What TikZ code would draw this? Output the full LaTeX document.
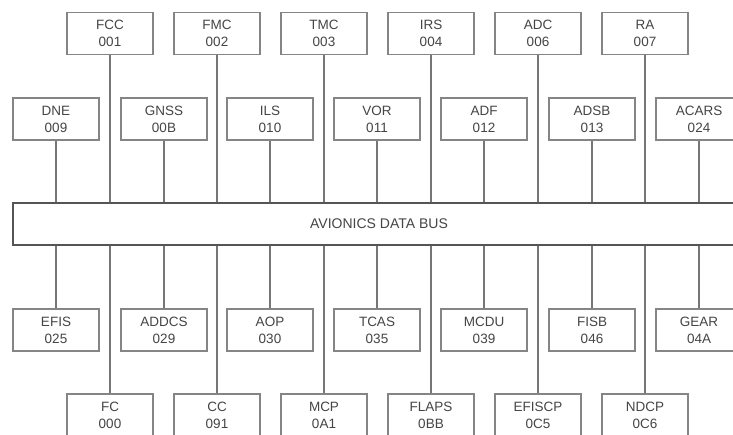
\documentclass[tikz,border=0pt]{standalone}
\usepackage{fontspec}
\setmainfont{Liberation Sans}
\definecolor{boxline}{HTML}{858585}
\definecolor{busline}{HTML}{555555}
\definecolor{labeltext}{HTML}{454545}
\definecolor{wire}{HTML}{767676}
\begin{document}
\begin{tikzpicture}[x=1pt,y=-1pt,
  unit/.style={draw=boxline, line width=1.2pt, rectangle, minimum width=86pt,
    minimum height=42pt, inner sep=0pt, align=center, text=labeltext,
    font=\fontsize{13.5}{17}\selectfont},
  busbox/.style={draw=busline, line width=1.8pt, rectangle, minimum width=732pt,
    minimum height=42pt, inner sep=0pt, text=labeltext,
    font=\fontsize{14}{17}\selectfont},
  link/.style={draw=wire, line width=1.1pt}]
\clip (0,0) rectangle (733,434);
\fill[white] (0,0) rectangle (733,434);

% upper tier of units
\node[unit] (fcc) at (110,33.5) {FCC\\001};
\node[unit] (fmc) at (217,33.5) {FMC\\002};
\node[unit] (tmc) at (324,33.5) {TMC\\003};
\node[unit] (irs) at (431,33.5) {IRS\\004};
\node[unit] (adc) at (538,33.5) {ADC\\006};
\node[unit] (ra)  at (645,33.5) {RA\\007};

% second tier of units
\node[unit] (dne)   at (56,119)  {DNE\\009};
\node[unit] (gnss)  at (164,119) {GNSS\\00B};
\node[unit] (ils)   at (270,119) {ILS\\010};
\node[unit] (vor)   at (377,119) {VOR\\011};
\node[unit] (adf)   at (484,119) {ADF\\012};
\node[unit] (adsb)  at (592,119) {ADSB\\013};
\node[unit] (acars) at (699,119) {ACARS\\024};

% the shared bus
\node[busbox] (bus) at (379,224) {AVIONICS DATA BUS};

% lower tier of units
\node[unit] (efis)  at (56,330)  {EFIS\\025};
\node[unit] (addcs) at (164,330) {ADDCS\\029};
\node[unit] (aop)   at (270,330) {AOP\\030};
\node[unit] (tcas)  at (377,330) {TCAS\\035};
\node[unit] (mcdu)  at (484,330) {MCDU\\039};
\node[unit] (fisb)  at (592,330) {FISB\\046};
\node[unit] (gear)  at (699,330) {GEAR\\04A};

% bottom tier of units
\node[unit] (fc)     at (110,415) {FC\\000};
\node[unit] (cc)     at (217,415) {CC\\091};
\node[unit] (mcp)    at (324,415) {MCP\\0A1};
\node[unit] (flaps)  at (431,415) {FLAPS\\0BB};
\node[unit] (efiscp) at (538,415) {EFISCP\\0C5};
\node[unit] (ndcp)   at (645,415) {NDCP\\0C6};

% stubs down to the bus
\foreach \u in {fcc,fmc,tmc,irs,adc,ra,dne,gnss,ils,vor,adf,adsb,acars}
  \draw[link] (\u.south) -- (\u.south |- bus.north);
% stubs up to the bus
\foreach \u in {efis,addcs,aop,tcas,mcdu,fisb,gear,fc,cc,mcp,flaps,efiscp,ndcp}
  \draw[link] (\u.north) -- (\u.north |- bus.south);
\end{tikzpicture}
\end{document}
